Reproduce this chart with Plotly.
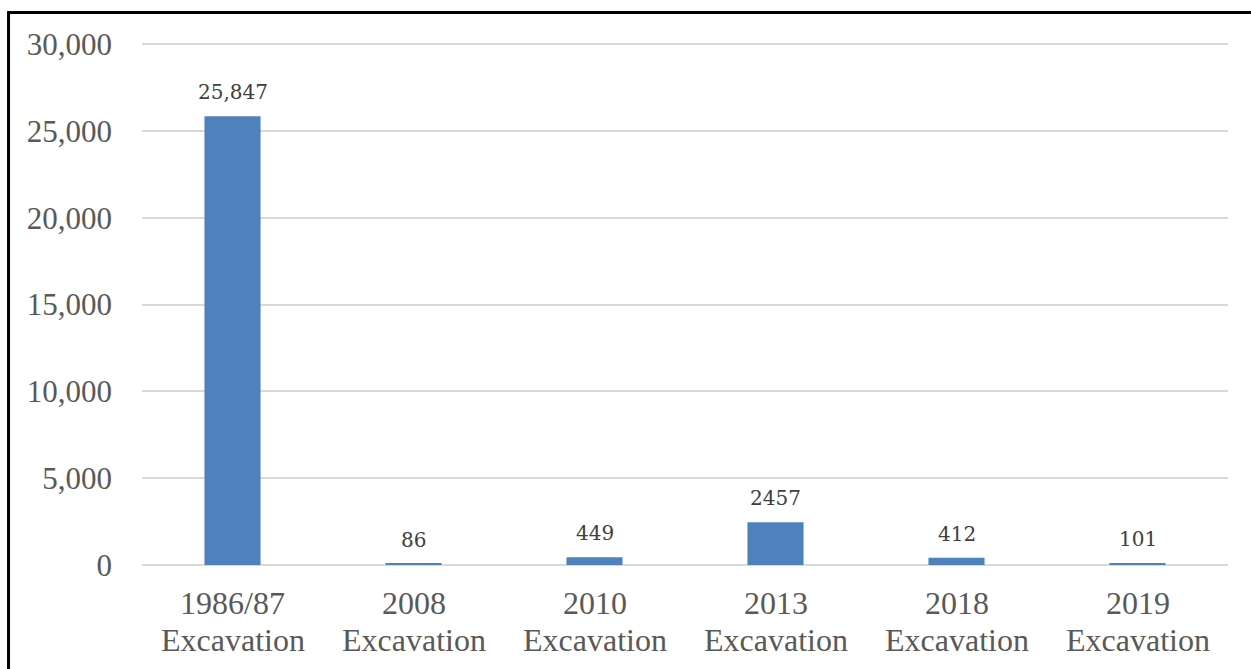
import plotly.graph_objects as go

years = ["1986/87", "2008", "2010", "2013", "2018", "2019"]
second_line = "Excavation"
categories = [y + " " + second_line for y in years]
values = [25847, 86, 449, 2457, 412, 101]
labels = ["25,847", "86", "449", "2457", "412", "101"]
y_ticks = [0, 5000, 10000, 15000, 20000, 25000, 30000]
y_ticktext = ["0", "5,000", "10,000", "15,000", "20,000", "25,000", "30,000"]

fig = go.Figure(go.Bar(
    x=categories, y=values,
    marker=dict(color="#4f81bd", line=dict(width=0)),
    cliponaxis=False,
))

annotations = []
for c, v, t in zip(categories, values, labels):
    annotations.append(dict(x=c, y=v, xref="x", yref="y", text=t, showarrow=False,
                            yanchor="bottom", yshift=10,
                            font=dict(family="DejaVu Serif", size=20, color="#404040")))
for c, yr in zip(categories, years):
    annotations.append(dict(x=c, y=0, xref="x", yref="paper", text=yr, showarrow=False,
                            yanchor="middle", yshift=-38,
                            font=dict(family="Liberation Serif", size=32, color="#595959")))
    annotations.append(dict(x=c, y=0, xref="x", yref="paper", text=second_line, showarrow=False,
                            yanchor="middle", yshift=-75,
                            font=dict(family="Liberation Serif", size=32, color="#595959")))

fig.update_layout(
    width=1251, height=669,
    margin=dict(l=142, r=23, t=39, b=104),
    paper_bgcolor="white", plot_bgcolor="white",
    bargap=0.69,
    showlegend=False,
    annotations=annotations,
    xaxis=dict(showgrid=False, showline=False, zeroline=False, ticks="",
               showticklabels=False),
    yaxis=dict(range=[0, 30300], tickvals=y_ticks, ticktext=y_ticktext,
               showgrid=True, gridcolor="#d9d9d9", gridwidth=1.5,
               zeroline=True, zerolinecolor="#d9d9d9", zerolinewidth=2,
               showline=False, ticks="",
               tickfont=dict(family="Liberation Serif", size=31, color="#595959"),
               ticklabelstandoff=29),
    shapes=[dict(type="rect", xref="paper", yref="paper",
                 x0=-0.1229, x1=1.06, y0=-0.3, y1=1.0503,
                 line=dict(color="black", width=3), fillcolor="rgba(0,0,0,0)")],
)

fig.write_html("out.html")
